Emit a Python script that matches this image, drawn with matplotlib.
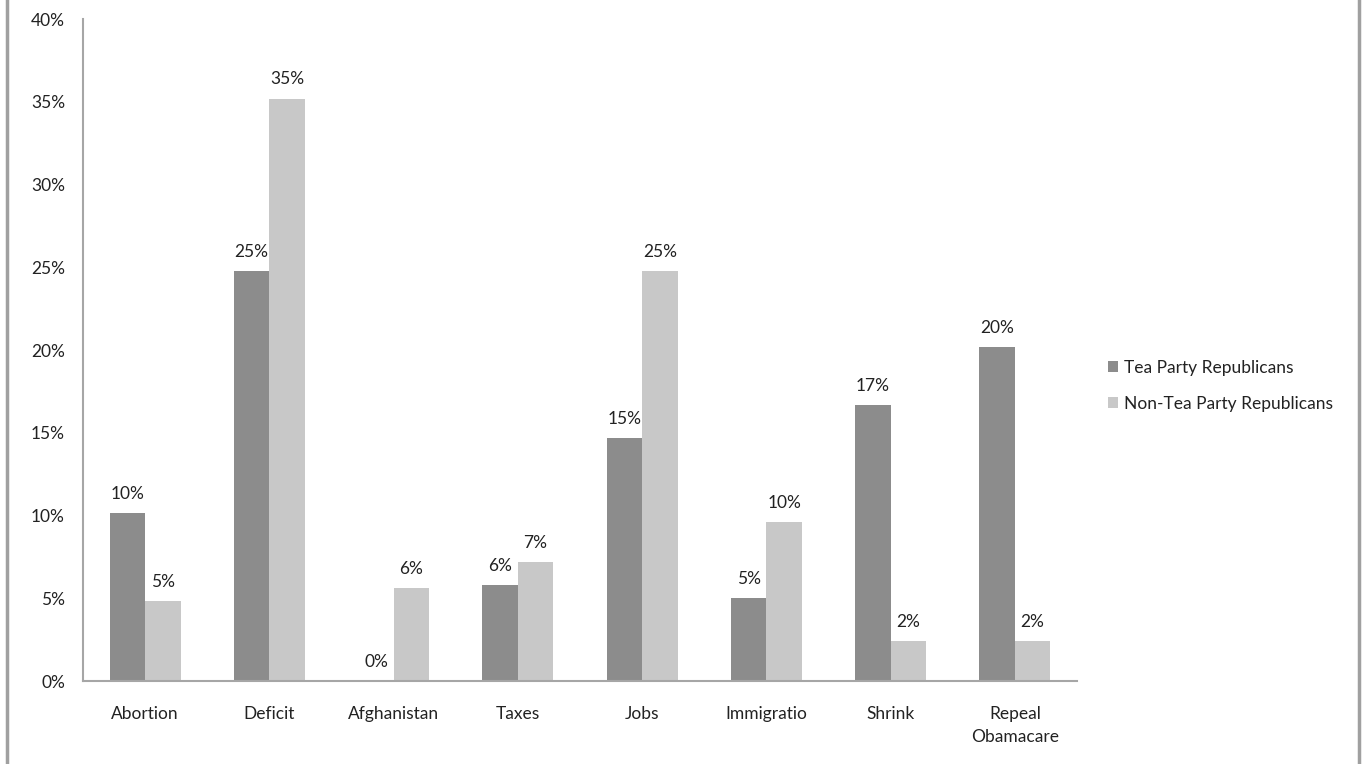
import numpy as np
import matplotlib
matplotlib.use('Agg')
import matplotlib.pyplot as plt
from matplotlib.lines import Line2D
from matplotlib.ticker import FuncFormatter

# Top issue by group (percent of respondents)
categories = ['Abortion', 'Deficit', 'Afghanistan', 'Taxes', 'Jobs',
              'Immigratio', 'Shrink', 'Repeal\nObamacare']
tea_party = [10.15, 24.8, 0.0, 5.8, 14.7, 5.0, 16.7, 20.2]
non_tea_party = [4.83, 35.2, 5.6, 7.2, 24.8, 9.6, 2.4, 2.4]
series_names = ['Tea Party Republicans', 'Non-Tea Party Republicans']

plt.rcParams['font.family'] = ['Lato', 'DejaVu Sans']
text_color = '#222222'
fs = 12.5

fig = plt.figure(figsize=(13.66, 7.64), dpi=100)
ax = fig.add_axes([0.0608, 0.1086, 0.7276, 0.8664])

x = np.arange(len(categories))
w = 0.285
b1 = ax.bar(x - w / 2, tea_party, w, color='#8c8c8c', label=series_names[0])
b2 = ax.bar(x + w / 2, non_tea_party, w, color='#c8c8c8', label=series_names[1])

for bars in (b1, b2):
    for rect in bars:
        v = rect.get_height()
        ax.annotate(f"{v:.0f}%", (rect.get_x() + rect.get_width() / 2, v),
                    xytext=(0, 8), textcoords='offset points',
                    ha='center', va='bottom', fontsize=fs, color=text_color)

ax.set_xlim(-0.5, 7.5)
ax.set_ylim(0, 40)
ax.set_yticks(np.arange(0, 41, 5))
ax.yaxis.set_major_formatter(FuncFormatter(lambda v, p: f"{v:.0f}%"))
ax.set_xticks(x)
ax.set_xticklabels(categories, linespacing=1.5)
ax.tick_params(axis='both', length=0, labelsize=fs, labelcolor=text_color)
ax.tick_params(axis='y', pad=13)
ax.tick_params(axis='x', pad=18)

for side in ('top', 'right'):
    ax.spines[side].set_visible(False)
for side in ('left', 'bottom'):
    ax.spines[side].set_color('#a6a6a6')
    ax.spines[side].set_linewidth(1.5)

leg = fig.legend(handles=[b1, b2], labels=series_names, loc='center left',
                 bbox_to_anchor=(0.8, 0.495), frameon=False, fontsize=fs,
                 handlelength=0.55, handleheight=0.55, handletextpad=0.35,
                 labelspacing=1.15)
for t in leg.get_texts():
    t.set_color(text_color)

# outer frame lines at left and right edges
for xf in (7 / 1366, 1359 / 1366):
    fig.add_artist(Line2D([xf, xf], [0, 1], transform=fig.transFigure,
                          color='#a0a0a0', linewidth=2.5))

fig.savefig('out.png', dpi=100)
